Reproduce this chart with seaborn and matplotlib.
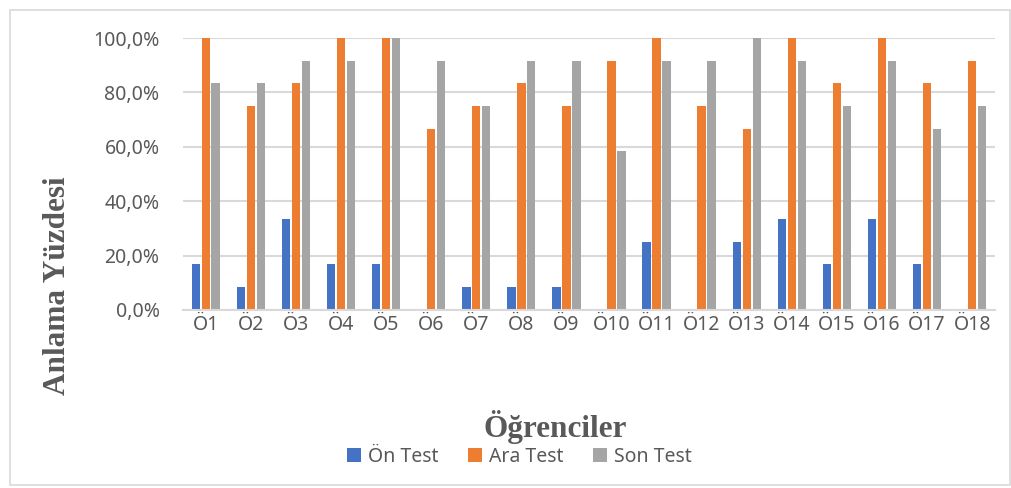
import matplotlib
matplotlib.use("Agg")
import matplotlib.pyplot as plt
import matplotlib.patches as mpatches
from matplotlib.ticker import FuncFormatter, FixedLocator
import seaborn as sns
import pandas as pd

students = ["Ö1", "Ö2", "Ö3", "Ö4", "Ö5", "Ö6", "Ö7", "Ö8", "Ö9", "Ö10",
            "Ö11", "Ö12", "Ö13", "Ö14", "Ö15", "Ö16", "Ö17", "Ö18"]
on_test = [0.167, 0.083, 0.333, 0.167, 0.167, 0.0, 0.083, 0.083, 0.083, 0.0,
           0.25, 0.0, 0.25, 0.333, 0.167, 0.333, 0.167, 0.0]
ara_test = [1.0, 0.75, 0.833, 1.0, 1.0, 0.667, 0.75, 0.833, 0.75, 0.917,
            1.0, 0.75, 0.667, 1.0, 0.833, 1.0, 0.833, 0.917]
son_test = [0.833, 0.833, 0.917, 0.917, 1.0, 0.917, 0.75, 0.917, 0.917, 0.583,
            0.917, 0.917, 1.0, 0.917, 0.75, 0.917, 0.667, 0.75]
series_names = ["Ön Test", "Ara Test", "Son Test"]
colors = ["#4472C4", "#ED7D31", "#A5A5A5"]

rows = []
for name, vals in zip(series_names, [on_test, ara_test, son_test]):
    for s, v in zip(students, vals):
        rows.append({"Öğrenci": s, "Test": name, "Değer": v})
df = pd.DataFrame(rows)

sns.set_theme(style="white")
plt.rcParams["font.family"] = ["Noto Sans", "DejaVu Sans"]

fig = plt.figure(figsize=(10.12, 4.88), dpi=100)
ax = fig.add_axes([0.181, 0.365, 0.802, 0.557])

sns.barplot(data=df, x="Öğrenci", y="Değer", hue="Test", order=students,
            hue_order=series_names, palette=colors, width=0.66, gap=0.15,
            saturation=1, ax=ax, errorbar=None, legend=True, linewidth=0)

ax.set_ylim(0, 1.0)
ax.set_xlim(-0.5, len(students) - 0.5)
ax.set_yticks([0, 0.2, 0.4, 0.6, 0.8, 1.0])
ax.yaxis.set_major_formatter(FuncFormatter(lambda v, p: f"{v*100:.1f}%".replace(".", ",")))
ax.grid(axis="y", color="#D9D9D9", linewidth=1.5)
ax.set_axisbelow(True)
for sp in ["top", "right", "left"]:
    ax.spines[sp].set_visible(False)
ax.spines["bottom"].set_color("#D9D9D9")
ax.spines["bottom"].set_linewidth(1.5)

ax.tick_params(axis="y", length=0, labelsize=14, labelcolor="#595959", pad=17)
ax.xaxis.set_major_locator(FixedLocator(range(len(students))))
ax.set_xticklabels(students)
ax.tick_params(axis="x", which="major", length=0, labelsize=14, labelcolor="#595959", pad=4)
ax.xaxis.set_minor_locator(FixedLocator([i - 0.5 for i in range(len(students) + 1)]))
ax.tick_params(axis="x", which="minor", length=6, width=1.5, color="#D9D9D9", direction="out")

ax.set_xlabel("")
ax.set_ylabel("")
fig.text(0.057, 0.414, "Anlama Yüzdesi", rotation=90, ha="center", va="center",
         fontsize=22.5, fontweight="bold", color="#595959", family="Liberation Serif")
fig.text(0.549, 0.124, "Öğrenciler", ha="center", va="center",
         fontsize=22.5, fontweight="bold", color="#595959", family="Liberation Serif")

leg = ax.get_legend()
handles = leg.legend_handles
leg.remove()
fig.legend(handles, series_names, loc="center", bbox_to_anchor=(0.513, 0.064),
           ncol=3, frameon=False, fontsize=14, labelcolor="#595959",
           handlelength=0.75, handleheight=0.75, handletextpad=0.35, columnspacing=1.5)

fig.patches.append(mpatches.Rectangle((0.01, 0.006), 0.988, 0.974, transform=fig.transFigure,
                                      fill=False, edgecolor="#D9D9D9", linewidth=1.2))

fig.savefig("out.png", dpi=100)
